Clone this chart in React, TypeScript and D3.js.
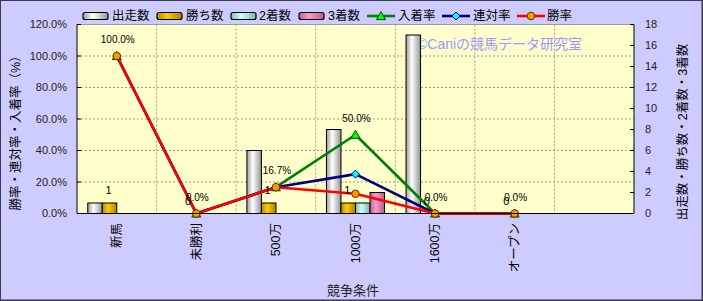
import React from "react";
import * as d3 from "d3";

const categories = ["新馬", "未勝利", "500万", "1000万", "1600万", "オープン", ""];
const starts = [1, 0, 6, 8, 17, 0, null];
const wins = [1, 0, 1, 1, 0, 0, null];
const seconds = [0, 0, 0, 1, 0, 0, null];
const thirds = [0, 0, 0, 2, 0, 0, null];
const placeRate = [100, 0, 16.7, 50, 0, 0, null];
const rentaiRate = [100, 0, 16.7, 25, 0, 0, null];
const winRate = [100, 0, 16.7, 12.5, 0, 0, null];
const leftTicks = [0, 20, 40, 60, 80, 100, 120];
const rightTicks = [0, 2, 4, 6, 8, 10, 12, 14, 16, 18];

const W = 703;
const H = 301;
const M = { left: 77, right: 634, top: 24.5, bottom: 213.5 };
const FONT = "'Liberation Sans', Arial, 'Noto Sans CJK JP', sans-serif";

const barSeries = [
  { name: "出走数", values: starts, id: "gStarts", stops: ["#9c9c9c", "#ffffff", "#959595"] },
  { name: "勝ち数", values: wins, id: "gWins", stops: ["#b08a00", "#ffcc00", "#a88200"] },
  { name: "2着数", values: seconds, id: "gSec", stops: ["#88b8b8", "#ccffff", "#84b0b0"] },
  { name: "3着数", values: thirds, id: "gThird", stops: ["#b86690", "#ff99cc", "#b06088"] },
];

const lineSeries = [
  { name: "入着率", values: placeRate, color: "#008000", marker: "tri", fill: "#00ff00", mstroke: "#005000" },
  { name: "連対率", values: rentaiRate, color: "#000080", marker: "dia", fill: "#00ffff", mstroke: "#000080" },
  { name: "勝率", values: winRate, color: "#ff0000", marker: "circ", fill: "#ff9900", mstroke: "#663300" },
];

function Marker({ type, x, y, fill, stroke }: any) {
  if (type === "tri") {
    const s = 4.5;
    return (
      <path
        d={`M${x},${y - s}L${x + s},${y + s * 0.8}L${x - s},${y + s * 0.8}Z`}
        fill={fill}
        stroke={stroke}
        strokeWidth={1}
      />
    );
  }
  if (type === "dia") {
    const s = 4;
    return (
      <path d={`M${x},${y - s}L${x + s},${y}L${x},${y + s}L${x - s},${y}Z`} fill={fill} stroke={stroke} strokeWidth={1} />
    );
  }
  return <circle cx={x} cy={y} r={3.8} fill={fill} stroke={stroke} strokeWidth={1} />;
}

export default function App() {
  const x0 = d3.scaleBand<string>().domain(categories.map((c, i) => String(i))).range([M.left, M.right]).padding(0);
  const step = x0.step();
  const groupW = step * 0.73;
  const x1 = d3
    .scaleBand<string>()
    .domain(barSeries.map((s) => s.name))
    .range([0, groupW])
    .padding(0);
  const yL = d3.scaleLinear().domain([0, 120]).range([M.bottom, M.top]);
  const yR = d3.scaleLinear().domain([0, 18]).range([M.bottom, M.top]);
  const cx = (i: number) => (x0(String(i)) as number) + step / 2;

  const legendBars = [
    { x: 83, tx: 112 },
    { x: 157, tx: 186 },
    { x: 231, tx: 259 },
    { x: 299, tx: 328 },
  ];
  const legendLines = [
    { x: 367, tx: 398 },
    { x: 442, tx: 473 },
    { x: 517, tx: 547 },
  ];
  const legY = 16;

  return (
    <svg
      width={W}
      height={H}
      style={{ position: "absolute", left: 0, top: 0, display: "block" }}
      fontFamily={FONT}
    >
      <defs>
        {barSeries.map((s) => (
          <linearGradient key={s.id} id={s.id} x1="0" x2="1" y1="0" y2="0">
            <stop offset="0" stopColor={s.stops[0]} />
            <stop offset="0.4" stopColor={s.stops[1]} />
            <stop offset="1" stopColor={s.stops[2]} />
          </linearGradient>
        ))}
      </defs>
      <rect x={0} y={0} width={W} height={H} fill="#ccccff" />
      <rect x={0.5} y={0.5} width={W - 1.5} height={H - 1.5} fill="none" stroke="#3a3a4a" strokeWidth={1} />
      <line x1={W - 0.5} y1={0} x2={W - 0.5} y2={H} stroke="#3a3a4a" />
      <line x1={0} y1={H - 0.5} x2={W} y2={H - 0.5} stroke="#3a3a4a" />

      {/* plot background */}
      <rect x={M.left} y={M.top} width={M.right - M.left} height={M.bottom - M.top} fill="#ffffcc" />

      {/* gridlines */}
      {leftTicks
        .filter((t) => t > 0)
        .map((t) => (
          <line
            key={"h" + t}
            x1={M.left}
            x2={M.right}
            y1={yL(t)}
            y2={yL(t)}
            stroke="#9a9a9a"
            strokeDasharray={t === 120 ? undefined : "2,2"}
            strokeWidth={1}
          />
        ))}
      {categories.slice(1).map((c, i) => {
        const xx = x0(String(i + 1)) as number;
        return (
          <line key={"v" + i} x1={xx} x2={xx} y1={M.top} y2={M.bottom} stroke="#9a9a9a" strokeDasharray="2,2" />
        );
      })}

      {/* watermark */}
      <text x={417} y={44} dy="0.35em" fontSize={14} fill="#9999ff">
        ©Caniの競馬データ研究室
      </text>

      {/* bars */}
      {categories.map((c, i) => {
        const gx = cx(i) - groupW / 2;
        return barSeries.map((s) => {
          const v = s.values[i];
          if (v == null || v === 0) return null;
          const bx = gx + (x1(s.name) as number);
          return (
            <rect
              key={s.name + i}
              x={bx}
              y={yR(v)}
              width={x1.bandwidth()}
              height={M.bottom - yR(v)}
              fill={`url(#${s.id})`}
              stroke="#000"
              strokeWidth={1}
            />
          );
        });
      })}

      {/* lines */}
      {lineSeries.map((s) => {
        const pts = s.values.map((v, i) => [cx(i), v == null ? null : yL(v)] as [number, number | null]);
        const gen = d3
          .line<[number, number | null]>()
          .defined((d) => d[1] != null)
          .x((d) => d[0])
          .y((d) => d[1] as number);
        return <path key={s.name} d={gen(pts) || ""} fill="none" stroke={s.color} strokeWidth={2.6} strokeLinejoin="round" />;
      })}
      {lineSeries.map((s) =>
        s.values.map((v, i) =>
          v == null ? null : (
            <Marker key={s.name + "m" + i} type={s.marker} x={cx(i)} y={yL(v)} fill={s.fill} stroke={s.mstroke} />
          )
        )
      )}

      {/* axes */}
      <line x1={M.left} x2={M.left} y1={M.top} y2={M.bottom} stroke="#000" />
      <line x1={M.right} x2={M.right} y1={M.top} y2={M.bottom} stroke="#000" />
      <line x1={M.left} x2={M.right} y1={M.bottom} y2={M.bottom} stroke="#000" />
      {leftTicks.map((t) => (
        <g key={"lt" + t}>
          <line x1={M.left} x2={M.left + 4} y1={yL(t)} y2={yL(t)} stroke="#000" />
          <text x={67} y={yL(t)} dy="0.35em" textAnchor="end" fontSize={11} fill="#222">
            {t.toFixed(1) + "%"}
          </text>
        </g>
      ))}
      {rightTicks.map((t) => (
        <g key={"rt" + t}>
          <line x1={M.right - 4} x2={M.right} y1={yR(t)} y2={yR(t)} stroke="#000" />
          <text x={645} y={yR(t)} dy="0.35em" textAnchor="start" fontSize={11} fill="#222">
            {t}
          </text>
        </g>
      ))}

      {/* data labels: wins */}
      {wins.map((v, i) =>
        v == null ? null : (
          <text
            key={"wl" + i}
            x={cx(i) - groupW / 2 + (x1("勝ち数") as number) + x1.bandwidth() / 2 - 1}
            y={yR(v) - 12.5}
            dy="0.35em"
            textAnchor="middle"
            fontSize={11}
            fill="#000"
          >
            {v}
          </text>
        )
      )}
      {/* data labels: place rate */}
      {placeRate.map((v, i) =>
        v == null ? null : (
          <text key={"pl" + i} x={cx(i) + 1} y={yL(v) - 16.5} dy="0.35em" textAnchor="middle" fontSize={10} fill="#000">
            {v.toFixed(1) + "%"}
          </text>
        )
      )}

      {/* x labels */}
      {categories.map((c, i) =>
        c ? (
          <text
            key={"xl" + i}
            transform={`translate(${cx(i)},223) rotate(-90)`}
            dy="0.35em"
            textAnchor="end"
            fontSize={12.5}
            fill="#000"
          >
            {c}
          </text>
        ) : null
      )}
      <text x={353} y={290} dy="0.35em" textAnchor="middle" fontSize={13} fill="#222">
        競争条件
      </text>

      {/* axis titles */}
      <text transform="translate(16,130) rotate(-90)" dy="0.35em" textAnchor="middle" fontSize={12.5} fill="#000">
        勝率・連対率・入着率（%）
      </text>
      <text transform="translate(683,132) rotate(-90)" dy="0.35em" textAnchor="middle" fontSize={12.5} fill="#000">
        出走数・勝ち数・2着数・3着数
      </text>

      {/* legend */}
      {barSeries.map((s, i) => (
        <g key={"lb" + i}>
          <rect
            x={legendBars[i].x}
            y={legY - 3.5}
            width={25}
            height={7}
            rx={2}
            fill={`url(#${s.id})`}
            stroke="#000"
            strokeWidth={1.2}
          />
          <text x={legendBars[i].tx} y={legY} dy="0.35em" fontSize={12.5} fill="#000">
            {s.name}
          </text>
        </g>
      ))}
      {lineSeries.map((s, i) => (
        <g key={"ll" + i}>
          <line x1={legendLines[i].x} x2={legendLines[i].x + 28} y1={legY} y2={legY} stroke={s.color} strokeWidth={2.6} />
          <Marker type={s.marker} x={legendLines[i].x + 14} y={legY} fill={s.fill} stroke={s.mstroke} />
          <text x={legendLines[i].tx} y={legY} dy="0.35em" fontSize={12.5} fill="#000">
            {s.name}
          </text>
        </g>
      ))}
    </svg>
  );
}
